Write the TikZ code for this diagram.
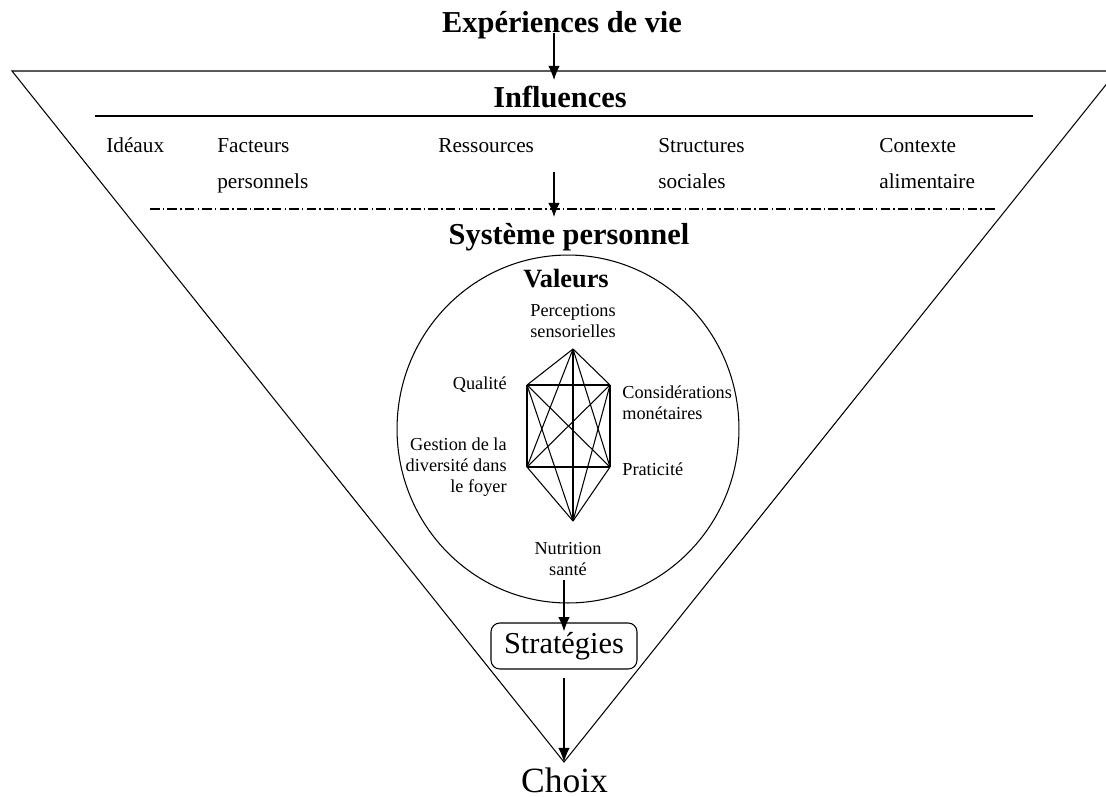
\documentclass[tikz,border=0pt]{standalone}
\usepackage{fontspec}
\setmainfont{Liberation Serif}
\usetikzlibrary{arrows.meta}

\begin{document}
\begin{tikzpicture}[x = 0.02cm, y = -0.02cm,
    titre/.style = {font = \fontsize{17.3}{20}\selectfont\bfseries, inner sep = 0pt, anchor = base},
    influence/.style = {font = \fontsize{12.1}{20.4}\selectfont, inner sep = 0pt, anchor = base west, align = left},
    valeur/.style = {font = \fontsize{10.4}{11.8}\selectfont, inner sep = 0pt},
    fleche/.style = {-{Latex[length = 8pt, width = 6.5pt]}, line width = 0.6pt}]
    \useasboundingbox (0,0) rectangle (1106,796);
    % Triangle
    \coordinate (gauche) at (12,71);
    \coordinate (droite) at (1117,71);
    \coordinate (pointe) at (564,762);
    \draw[line width = 0.6pt] (gauche) -- (droite) -- (pointe) -- cycle;
    % Titres
    \node[titre] (experiences) at (562,32) {Expériences de vie};
    \node[titre] (influences) at (560,107) {Influences};
    \node[titre] (systeme) at (569,244) {Système personnel};
    \node[titre, font = \fontsize{15}{18}\selectfont\bfseries] (valeurs) at (566,287) {Valeurs};
    \coordinate (e1) at (554,33);
    \coordinate (e2) at (554,80);
    \draw[fleche] (e1) -- (e2);
    % Influences
    \draw[line width = 0.6pt] (95,116) -- (1033,116);
    \node[influence] (ideaux) at (106,152) {Idéaux};
    \node[influence] (facteurs) at (217,188) {Facteurs\\personnels};
    \node[influence] (ressources) at (438,152) {Ressources};
    \node[influence] (structures) at (658,188) {Structures\\sociales};
    \node[influence] (contexte) at (879,188) {Contexte\\alimentaire};
    \draw[line width = 0.6pt, dash pattern = on 5.5pt off 1.8pt on 0.8pt off 1.8pt] (150,209) -- (997,209);
    \coordinate (r1) at (554,172);
    \coordinate (r2) at (554,217);
    \draw[fleche] (r1) -- (r2);
    % Valeurs
    \draw[line width = 0.6pt] (568,429) circle [x radius = 3.42cm, y radius = 3.48cm];
    \coordinate (perc) at (573,349);
    \coordinate (cons) at (610,385);
    \coordinate (prat) at (610,467);
    \coordinate (nutr) at (573,521);
    \coordinate (gest) at (527,467);
    \coordinate (qual) at (527,385);
    \foreach [count = \i] \a in {perc,cons,prat,nutr,gest,qual}{
        \foreach [count = \j] \b in {perc,cons,prat,nutr,gest,qual}{
            \ifnum\i<\j \draw[line width = 0.6pt] (\a) -- (\b); \fi
        }
    }
    \node[valeur, anchor = base, align = center] (percL) at (573,337) {Perceptions\\sensorielles};
    \node[valeur, anchor = base east] (qualL) at (507,389) {Qualité};
    \node[valeur, anchor = base west, align = left] (consL) at (622,419) {Considérations\\monétaires};
    \node[valeur, anchor = base east, align = right] (gestL) at (507,492) {Gestion de la\\diversité dans\\le foyer};
    \node[valeur, anchor = base west] (pratL) at (622,475) {Praticité};
    \node[valeur, anchor = base, align = center] (nutrL) at (568,575) {Nutrition\\santé};
    % Strategies et choix
    \node[draw, line width = 0.6pt, rounded corners = 5pt, minimum width = 2.92cm, minimum height = 0.92cm,
        font = \fontsize{17.3}{20}\selectfont] (strategies) at (564,646) {Stratégies};
    \node[font = \fontsize{20.2}{24}\selectfont, inner sep = 0pt, anchor = base] (choix) at (564.5,792) {Choix};
    \coordinate (s1) at (564,580);
    \draw[fleche] (s1) -- ([yshift = -5pt]strategies.north);
    \draw[fleche, shorten <= 5pt] (strategies.south) -- (pointe);
\end{tikzpicture}
\end{document}
